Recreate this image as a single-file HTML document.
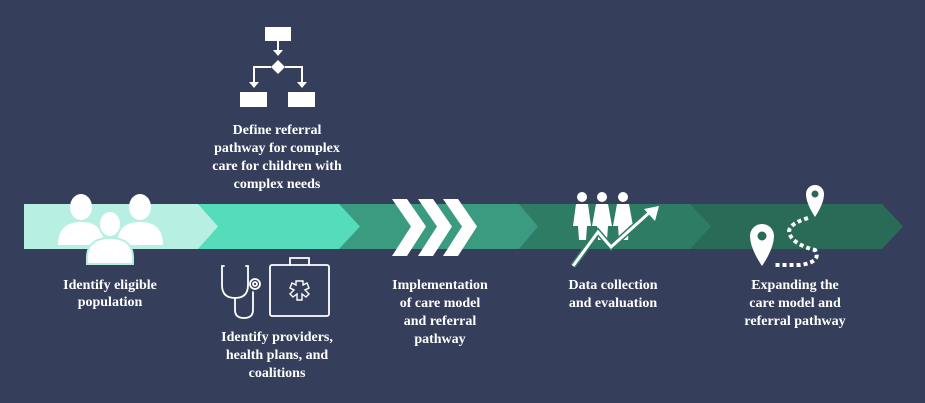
<!DOCTYPE html>
<html><head><meta charset="utf-8"><style>
html,body{margin:0;padding:0;background:#353f5b;}
svg{display:block}
text{font-family:"Liberation Serif",serif;font-weight:bold;font-size:14px;fill:#fff;text-anchor:middle}
</style></head><body>
<svg width="925" height="403" viewBox="0 0 925 403" xmlns="http://www.w3.org/2000/svg">
<rect width="925" height="403" fill="#353f5b"/>
<!-- band -->
<polygon points="682,204 882,204 903,226.5 882,249 682,249" fill="#2a6b57"/>
<polygon points="510,204 690,204 711,226.5 690,249 510,249 531,226.5" fill="#2e7c63"/>
<polygon points="330,204 519,204 538,226.5 519,249 330,249 351,226.5" fill="#3a9b81"/>
<polygon points="190,204 339,204 360,226.5 339,249 190,249" fill="#55dcba"/>
<polygon points="24,204 198,204 218,226.5 198,249 24,249" fill="#b7f0e2"/>
<!-- people icon -->
<g fill="#fff">
<ellipse cx="81" cy="207" rx="11" ry="13"/>
<path d="M58,245 Q58,222 81,222 Q104,222 104,245 Z"/>
<ellipse cx="140" cy="207" rx="11" ry="13"/>
<path d="M117,245 Q117,222 140,222 Q163,222 163,245 Z"/>
<ellipse cx="110" cy="224" rx="11" ry="13" stroke="#b7f0e2" stroke-width="2"/>
<path d="M87,264 L87,258 Q87,238 110,238 Q133,238 133,258 L133,264 Z" stroke="#b7f0e2" stroke-width="2"/>
</g>
<!-- flowchart icon -->
<g fill="#fff" stroke="#fff">
<rect x="265" y="27" width="26" height="14" stroke="none"/>
<line x1="278" y1="41" x2="278" y2="52" stroke-width="2"/>
<polygon points="273,50 283,50 278,56" stroke="none"/>
<polygon points="278,60 285,67 278,74 271,67" stroke="none"/>
<polyline points="271,67 254,67 254,84" fill="none" stroke-width="2"/>
<polyline points="285,67 302,67 302,84" fill="none" stroke-width="2"/>
<polygon points="249,82 259,82 254,88" stroke="none"/>
<polygon points="297,82 307,82 302,88" stroke="none"/>
<rect x="240" y="92" width="27" height="15" stroke="none"/>
<rect x="288" y="92" width="27" height="15" stroke="none"/>
</g>
<!-- stethoscope + kit -->
<g fill="none" stroke="#fff" stroke-width="1.8" stroke-linecap="round">
<path d="M224,266 L222,266 L222,285 Q222,298 235,298 Q248,298 248,285 L248,266 L246,266"/>
<path d="M235,298 L235,310 Q235,318 244,318 Q253,318 253,310 L253,292"/>
<circle cx="255" cy="284" r="5"/><circle cx="255" cy="284" r="2"/>
<rect x="270" y="265" width="59" height="51" rx="2"/>
<path d="M290,265 L290,258 L309,258 L309,265"/>
<path d="M296,281 L303,281 L303,285 L307,283 L309,288 L305,290 L309,294 L306,297 L302,294 L302,300 L297,300 L297,294 L293,297 L290,294 L294,290 L290,288 L292,283 L296,285 Z" stroke-width="1.4"/>
</g>
<!-- chevrons -->
<g fill="#fff">
<polygon points="392,199 407,199 426,226.5 407,256 392,256 411,226.5"/>
<polygon points="418,199 433,199 452,226.5 433,256 418,256 437,226.5"/>
<polygon points="443,199 458,199 477,226.5 458,256 443,256 462,226.5"/>
</g>
<!-- people + graph -->
<g fill="#fff">
<circle cx="582" cy="197" r="5"/><circle cx="602" cy="197" r="5"/><circle cx="623" cy="197" r="5"/>
<path d="M576,204 L588,204 L591,226 L587,226 L586,240 L579,240 L578,226 L573,226 Z"/>
<path d="M596,204 L608,204 L612,226 L608,226 L607,240 L598,240 L597,226 L592,226 Z"/>
<path d="M617,204 L629,204 L633,226 L629,226 L628,240 L619,240 L618,226 L613,226 Z"/>
</g>
<polyline points="573,266 598,232 611,247 650,212" fill="none" stroke="#2e7c63" stroke-width="6"/>
<polyline points="573,266 598,232 611,247 650,212" fill="none" stroke="#fff" stroke-width="3"/>
<polygon points="644,209 659,206 655,221" fill="#fff"/>
<!-- map pins -->
<g fill="#fff">
<path d="M815,185 a9,9 0 0 1 9,9 q0,9 -9,23 q-9,-14 -9,-23 a9,9 0 0 1 9,-9 Z"/>
<path d="M762,224 a12,12 0 0 1 12,12 q0,12 -12,30 q-12,-18 -12,-30 a12,12 0 0 1 12,-12 Z"/>
</g>
<circle cx="815" cy="194" r="3.5" fill="#2a6b57"/>
<circle cx="762" cy="236" r="4.5" fill="#2a6b57"/>
<path d="M808,218 Q785,225 790,235 Q795,245 815,250 Q822,262 800,265 L775,265" fill="none" stroke="#fff" stroke-width="4" stroke-dasharray="4,3"/>
<!-- labels -->
<text x="110" y="289">Identify eligible</text>
<text x="110" y="306">population</text>
<text x="277" y="134">Define referral</text>
<text x="277" y="152">pathway for complex</text>
<text x="277" y="170">care for children with</text>
<text x="277" y="188">complex needs</text>
<text x="277" y="341">Identify providers,</text>
<text x="277" y="359">health plans, and</text>
<text x="277" y="377">coalitions</text>
<text x="440" y="289">Implementation</text>
<text x="440" y="307">of care model</text>
<text x="440" y="325">and referral</text>
<text x="440" y="343">pathway</text>
<text x="613" y="289">Data collection</text>
<text x="613" y="307">and evaluation</text>
<text x="795" y="289">Expanding the</text>
<text x="795" y="307">care model and</text>
<text x="795" y="325">referral pathway</text>
</svg>
</body></html>
